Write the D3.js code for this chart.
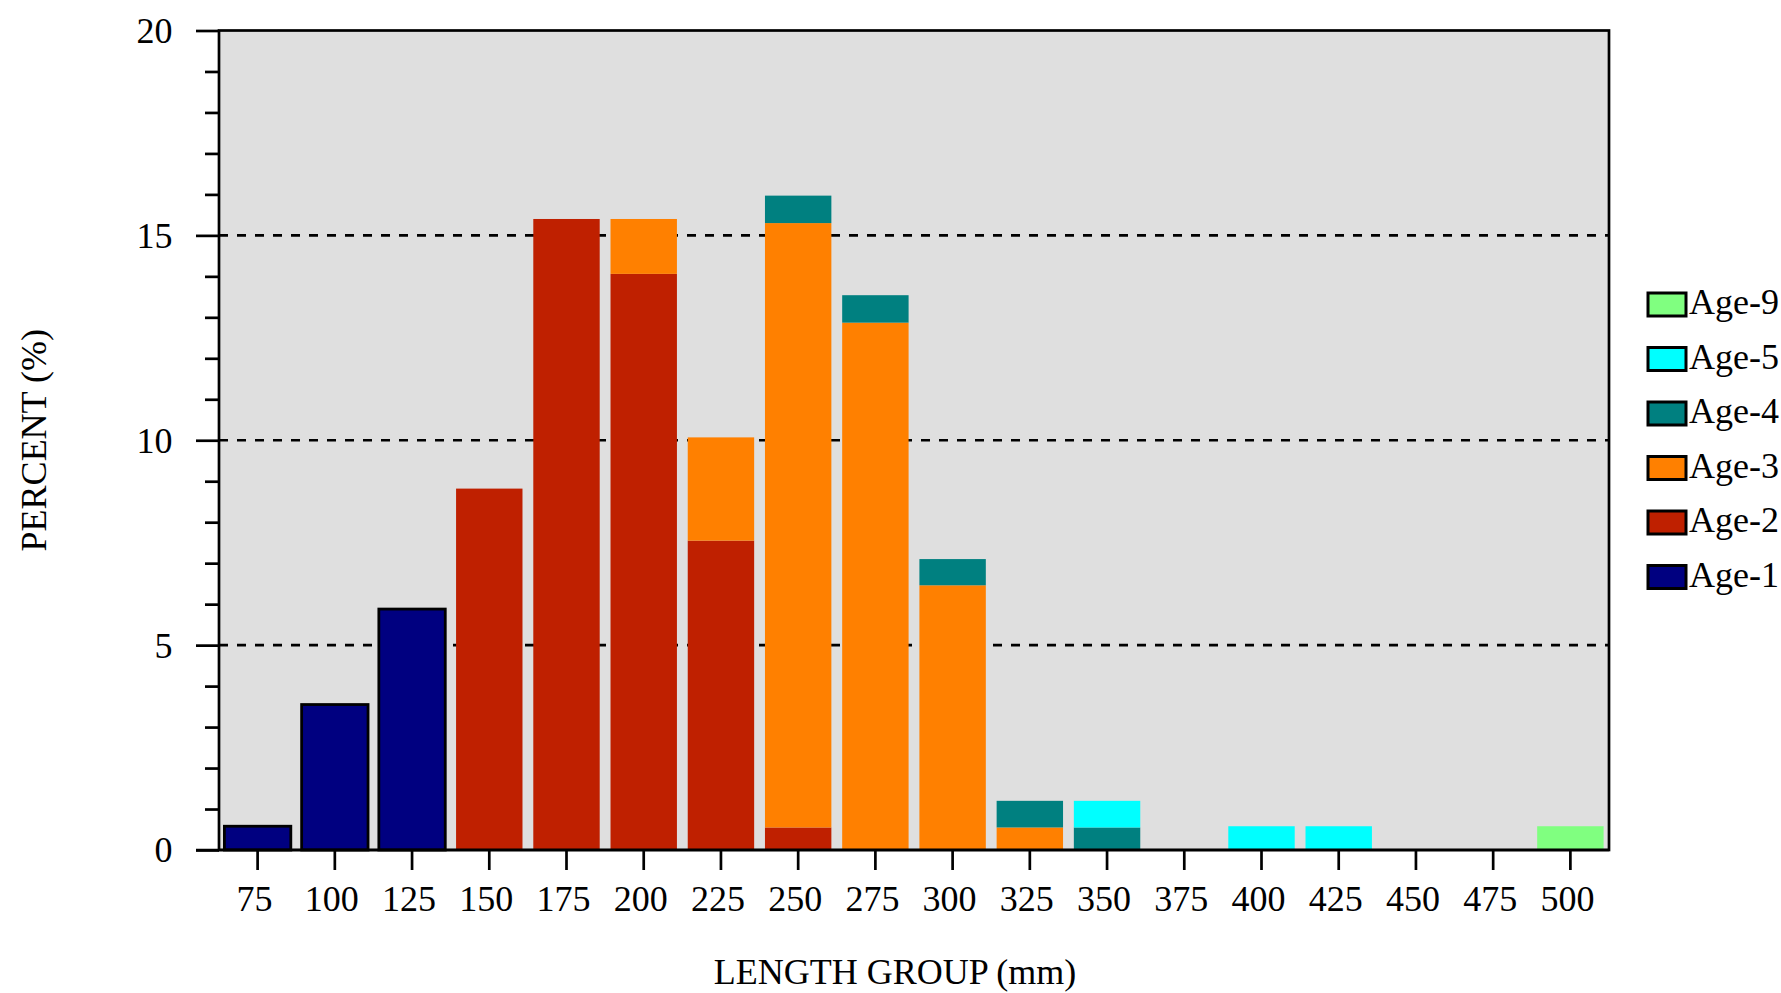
<!DOCTYPE html>
<html>
<head>
<meta charset="utf-8">
<script src="https://cdn.jsdelivr.net/npm/d3@7/dist/d3.min.js"></script>
<style>
    body { margin: 0; background: #fff; }
    svg { display: block; }
    text { font-family: "Liberation Serif", "Times New Roman", serif; fill: #000; }
</style>
</head>
<body>
<div id="chart"></div>
<script>
// Length groups (mm) on the x axis
const lengthGroups = [75, 100, 125, 150, 175, 200, 225, 250, 275, 300, 325, 350, 375, 400, 425, 450, 475, 500];

// Percent by age class, one value per length group
const age1 = [0.58, 3.55, 5.88, 0, 0, 0, 0, 0, 0, 0, 0, 0, 0, 0, 0, 0, 0, 0];
const age2 = [0, 0, 0, 8.82, 15.4, 14.06, 7.55, 0.55, 0, 0, 0, 0, 0, 0, 0, 0, 0, 0];
const age3 = [0, 0, 0, 0, 0, 1.34, 2.52, 14.75, 12.87, 6.46, 0.55, 0, 0, 0, 0, 0, 0, 0];
const age4 = [0, 0, 0, 0, 0, 0, 0, 0.67, 0.67, 0.64, 0.65, 0.55, 0, 0, 0, 0, 0, 0];
const age5 = [0, 0, 0, 0, 0, 0, 0, 0, 0, 0, 0, 0.65, 0, 0.58, 0.58, 0, 0, 0];
const age9 = [0, 0, 0, 0, 0, 0, 0, 0, 0, 0, 0, 0, 0, 0, 0, 0, 0, 0.58];

const ageNames = ['Age-1', 'Age-2', 'Age-3', 'Age-4', 'Age-5', 'Age-9'];
const ageColors = ['#000080', '#bf2000', '#ff8000', '#008080', '#00ffff', '#80ff80'];

const yMajorTicks = [0, 5, 10, 15, 20];
const yMinorTicks = [1, 2, 3, 4, 6, 7, 8, 9, 11, 12, 13, 14, 16, 17, 18, 19];
const gridTicks = [5, 10, 15];

const width = 1781, height = 993;
const plot = { left: 219, right: 1609, top: 30.5, bottom: 850 };

// build a table the stack layout can use
const seriesValues = [age1, age2, age3, age4, age5, age9];
const table = lengthGroups.map((g, i) => {
    const row = { group: g };
    ageNames.forEach((name, k) => { row[name] = seriesValues[k][i]; });
    return row;
});
const stacked = d3.stack().keys(ageNames)(table);

const svg = d3.select('#chart').append('svg')
    .attr('width', width)
    .attr('height', height);

const x = d3.scaleBand()
    .domain(lengthGroups)
    .range([plot.left, plot.right])
    .padding(0);

const y = d3.scaleLinear()
    .domain([0, 20])
    .range([plot.bottom, plot.top]);

const color = d3.scaleOrdinal().domain(ageNames).range(ageColors);

// plot background
svg.append('rect')
    .attr('x', plot.left)
    .attr('y', plot.top)
    .attr('width', plot.right - plot.left)
    .attr('height', plot.bottom - plot.top)
    .attr('fill', '#dfdfdf');

// dashed grid lines
svg.append('g')
    .selectAll('line')
    .data(gridTicks)
    .join('line')
    .attr('x1', plot.left)
    .attr('x2', plot.right)
    .attr('y1', d => y(d))
    .attr('y2', d => y(d))
    .attr('stroke', '#000')
    .attr('stroke-width', 2.7)
    .attr('stroke-dasharray', '9,9');

// stacked bars
const barWidth = x.bandwidth() * 0.86;
const barLayer = svg.append('g');
stacked.forEach(layer => {
    barLayer.append('g')
        .selectAll('rect')
        .data(layer.filter(d => d[1] - d[0] > 0))
        .join('rect')
        .attr('x', d => x(d.data.group) + (x.bandwidth() - barWidth) / 2)
        .attr('y', d => y(d[1]))
        .attr('width', barWidth)
        .attr('height', d => y(d[0]) - y(d[1]))
        .attr('fill', color(layer.key))
        .attr('stroke', layer.key === 'Age-1' ? '#000' : 'none')
        .attr('stroke-width', 2.8);
});

// frame
svg.append('rect')
    .attr('x', plot.left)
    .attr('y', plot.top)
    .attr('width', plot.right - plot.left)
    .attr('height', plot.bottom - plot.top)
    .attr('fill', 'none')
    .attr('stroke', '#000')
    .attr('stroke-width', 2.7);

// y axis: major ticks with labels, minor ticks without
const yAxis = svg.append('g')
    .attr('transform', `translate(${plot.left},0)`)
    .call(d3.axisLeft(y).tickValues(yMajorTicks).tickSize(23).tickPadding(23.5));
yAxis.select('.domain').remove();
yAxis.selectAll('line').attr('stroke-width', 2.7);
yAxis.selectAll('text').style('font-size', '36px').attr('dy', '0.33em');

const yMinor = svg.append('g')
    .attr('transform', `translate(${plot.left},0)`)
    .call(d3.axisLeft(y).tickValues(yMinorTicks).tickSize(14).tickFormat(''));
yMinor.select('.domain').remove();
yMinor.selectAll('line').attr('stroke-width', 2.7);

// x axis
const xAxis = svg.append('g')
    .attr('transform', `translate(0,${plot.bottom})`)
    .call(d3.axisBottom(x).tickSize(20).tickPadding(15));
xAxis.select('.domain').remove();
xAxis.selectAll('line').attr('stroke-width', 2.7);
xAxis.selectAll('text').style('font-size', '36px').attr('x', -3);

// extend baseline left to meet the zero tick
svg.append('line')
    .attr('x1', plot.left - 23)
    .attr('x2', plot.right)
    .attr('y1', plot.bottom)
    .attr('y2', plot.bottom)
    .attr('stroke', '#000')
    .attr('stroke-width', 2.7);

// axis titles
svg.append('text')
    .attr('x', 895)
    .attr('y', 984)
    .attr('text-anchor', 'middle')
    .style('font-size', '36px')
    .text('LENGTH GROUP (mm)');

svg.append('text')
    .attr('transform', `translate(46,${(plot.top + plot.bottom) / 2}) rotate(-90)`)
    .attr('text-anchor', 'middle')
    .style('font-size', '36px')
    .text('PERCENT (%)');

// legend, top entry is the oldest age
const legend = svg.append('g');
const legendItems = ageNames.slice().reverse();
legendItems.forEach((name, i) => {
    const top = 293 + i * 54.5;
    legend.append('rect')
        .attr('x', 1648)
        .attr('y', top)
        .attr('width', 38)
        .attr('height', 23)
        .attr('fill', color(name))
        .attr('stroke', '#000')
        .attr('stroke-width', 3);
    legend.append('text')
        .attr('x', 1689)
        .attr('y', top + 21)
        .style('font-size', '36px')
        .text(name);
});
</script>
</body>
</html>
